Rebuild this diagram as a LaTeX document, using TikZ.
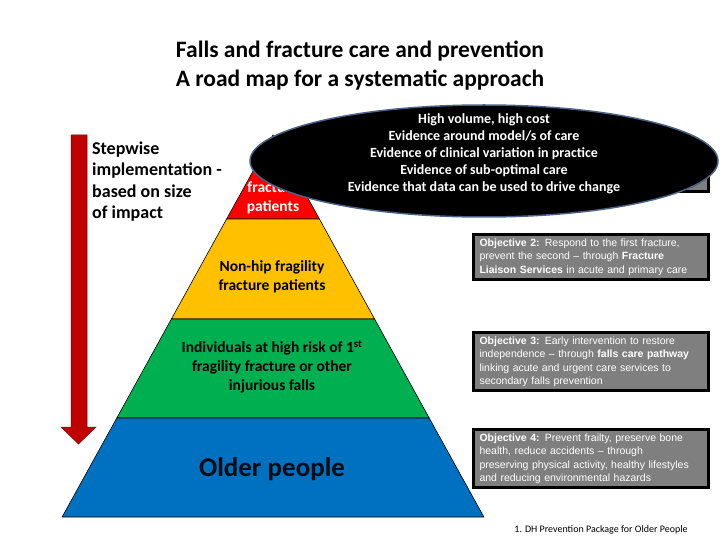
\documentclass[tikz,border=0pt]{standalone}
\usepackage{fontspec}
\setmainfont{Carlito}
\newfontfamily\arialfont{Liberation Sans}
\usetikzlibrary{
	shapes.geometric,
	positioning
}
\definecolor{tierred}{HTML}{FF0000}
\definecolor{tieryellow}{HTML}{FFC000}
\definecolor{tiergreen}{HTML}{00B050}
\definecolor{tierblue}{HTML}{0070C0}
\definecolor{arrowred}{HTML}{C00000}
\definecolor{objgrey}{HTML}{7F7F7F}
\definecolor{rimblue}{HTML}{4A6285}
\tikzset{
	tier/.style={
		draw=black,line width=0.6pt
	},
	tiertext/.style={
		align=center,inner sep=0pt,
		font=\fontsize{15.5}{19}\selectfont\bfseries
	},
	objective/.style={
		draw=black,line width=3pt,fill=objgrey,text=white,
		anchor=north west,align=left,
		text width=223pt,inner xsep=6pt,inner ysep=4pt,
		font=\arialfont\fontsize{10.5}{13.5}\selectfont
	}
}

\begin{document}
\begin{tikzpicture}[x=1pt,y=-1pt]
	\fill[white] (0,0) rectangle (720,540);
	\useasboundingbox (0,0) rectangle (720,540);

	% title
	\node [align=center,font=\fontsize{23.5}{29}\selectfont\bfseries] (title) at (360,66)
		{Falls and fracture care and prevention\\A road map for a systematic approach};

	% stepwise arrow
	\fill [arrowred,draw=arrowred!70!black,line width=0.5pt]
		(71,135) -- (87,135) -- (87,427) -- (96,427) -- (78.5,444) -- (61,427) -- (71,427) -- cycle;
	\node [anchor=west,align=left,inner sep=0pt,font=\fontsize{18}{21.5}\selectfont\bfseries] (step)
		at (92,181.5) {Stepwise\\implementation -\\based on size\\of impact};

	% pyramid
	\coordinate (apex) at (273,135);
	\coordinate (l1) at (226.6,219); \coordinate (r1) at (319.4,219);
	\coordinate (l2) at (171.4,319); \coordinate (r2) at (374.6,319);
	\coordinate (l3) at (116.8,418); \coordinate (r3) at (429.2,418);
	\coordinate (l4) at (62.1,517);  \coordinate (r4) at (483.9,517);

	\filldraw [tier,fill=tierred]    (apex) -- (r1) -- (l1) -- cycle;
	\filldraw [tier,fill=tieryellow] (l1) -- (r1) -- (r2) -- (l2) -- cycle;
	\filldraw [tier,fill=tiergreen]  (l2) -- (r2) -- (r3) -- (l3) -- cycle;
	\filldraw [tier,fill=tierblue]   (l3) -- (r3) -- (r4) -- (l4) -- cycle;

	\node [tiertext,text=white] (hip)   at (273,197.5) {fracture\\patients};
	\node [tiertext]            (nonhip) at (272,277) {Non-hip fragility\\fracture patients};
	\node [tiertext]            (risk)  at (272,367)
		{Individuals at high risk of 1\textsuperscript{st}\\fragility fracture or other\\injurious falls};
	\node [tiertext,text=black!90!tierblue,font=\fontsize{27}{30}\selectfont\bfseries] (older)
		at (272,469) {Older people};

	% objectives
	\node [objective,minimum height=37pt] (obj1) at (472,153) {};
	\node [objective] (obj2) at (472,233)
		{\textbf{Objective 2:} Respond to the first fracture,\\
		prevent the second \textendash{} through \textbf{Fracture}\\
		\textbf{Liaison Services} in acute and primary care};
	\node [objective] (obj3) at (472,331)
		{\textbf{Objective 3:} Early intervention to restore\\
		independence \textendash{} through \textbf{falls care pathway}\\
		linking acute and urgent care services to\\
		secondary falls prevention};
	\node [objective] (obj4) at (472,428)
		{\textbf{Objective 4:} Prevent frailty, preserve bone\\
		health, reduce accidents \textendash{} through\\
		preserving physical activity, healthy lifestyles\\
		and reducing environmental hazards};

	% evidence bubble
	\node [ellipse,draw=rimblue,line width=1.5pt,fill=black,
		minimum width=468pt,minimum height=112pt,inner sep=0pt] (bubble) at (484,161) {};
	\node [align=center,text=white,font=\fontsize{14}{17}\selectfont\bfseries] (evid) at (484,154)
		{High volume, high cost\\
		Evidence around model/s of care\\
		Evidence of clinical variation in practice\\
		Evidence of sub-optimal care\\
		Evidence that data can be used to drive change};

	\node [font=\fontsize{10}{12}\selectfont] (source) at (601,530)
		{1. DH Prevention Package for Older People};
\end{tikzpicture}
\end{document}
